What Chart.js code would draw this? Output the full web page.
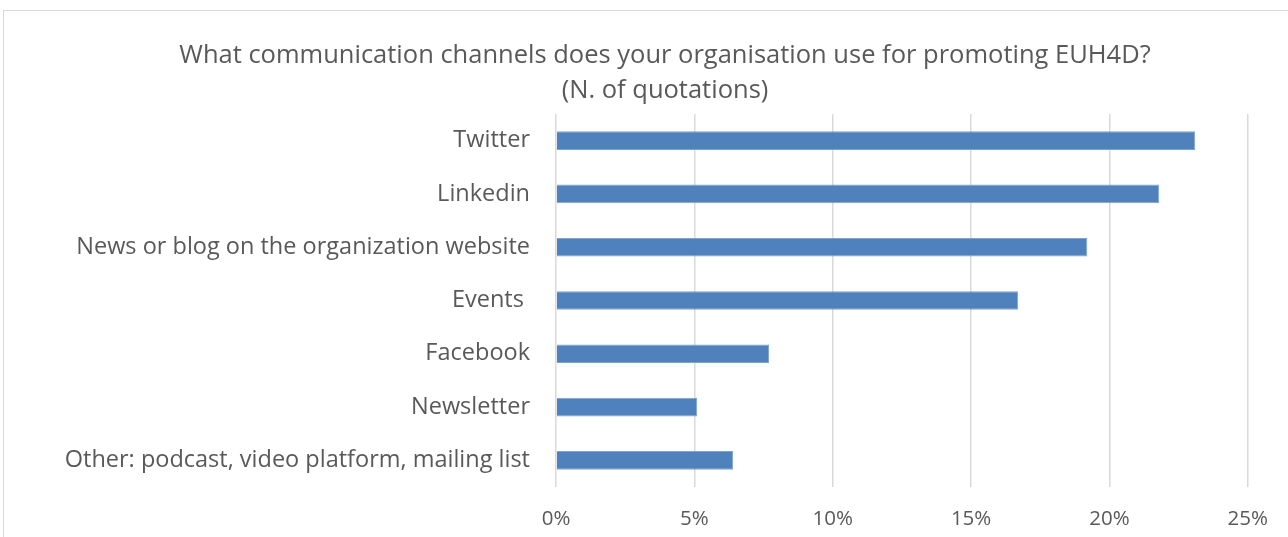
<!DOCTYPE html>
<html>
<head>
<meta charset="utf-8">
<script src="https://cdn.jsdelivr.net/npm/chart.js@4.4.0/dist/chart.umd.min.js"></script>
<style>
  body { margin: 0; background: #ffffff; }
  #marco { position: absolute; left: 3px; top: 10px; width: 1300px; height: 540px; border: 1px solid #d9d9d9; }
  #grafico { position: absolute; left: 0; top: 0; }
</style>
</head>
<body>
<div id="marco"></div>
<canvas id="grafico" width="1288" height="537"></canvas>
<script>
// Datos del gráfico (porcentaje de citas)
const categorias = [
    'Twitter',
    'Linkedin',
    'News or blog on the organization website',
    'Events ',
    'Facebook',
    'Newsletter',
    'Other: podcast, video platform, mailing list'
];
const valores = [23.1, 21.8, 19.2, 16.7, 7.7, 5.1, 6.4];
const marcasEje = [0, 5, 10, 15, 20, 25];

const tituloGrafico = [
    'What communication channels does your organisation use for promoting EUH4D?',
    '(N. of quotations)'
];

const fuente = '"Open Sans", Lato, sans-serif';
const gris = '#595959';
const margenIzq = 62; // espacio a la izquierda del gráfico

// Creamos el gráfico de barras horizontales
const ctx = document.getElementById('grafico').getContext('2d');
new Chart(ctx, {
    type: 'bar',
    data: {
        labels: categorias,
        datasets: [{
            data: valores,
            backgroundColor: '#4f81bd',
            borderColor: '#7fa3cf',
            borderWidth: 1,
            barPercentage: 0.35,
            categoryPercentage: 1
        }]
    },
    options: {
        indexAxis: 'y',
        responsive: false,
        animation: false,
        layout: { padding: { left: margenIzq, right: 20, top: 10, bottom: 7 } },
        plugins: {
            legend: { display: false },
            tooltip: { enabled: false },
            title: {
                display: true,
                text: tituloGrafico,
                color: gris,
                font: { family: fuente, size: 25.5, weight: 'normal', lineHeight: 1.373 },
                padding: { top: 28, bottom: 6 }
            }
        },
        scales: {
            x: {
                min: marcasEje[0],
                max: marcasEje[marcasEje.length - 1],
                afterBuildTicks: (eje) => { eje.ticks = marcasEje.map(v => ({ value: v })); },
                afterFit: (eje) => { eje.height = 43; },
                grid: { color: '#d9d9d9', lineWidth: 1.5, drawTicks: false },
                border: { display: false },
                ticks: {
                    color: gris,
                    padding: 20,
                    font: { family: fuente, size: 20.5 },
                    callback: (v) => v + '%'
                }
            },
            y: {
                grid: { display: false, drawTicks: false },
                border: { display: false },
                afterFit: (eje) => { eje.width = 556 - margenIzq; },
                ticks: {
                    color: gris,
                    padding: 26,
                    font: { family: fuente, size: 23.5 }
                }
            }
        }
    }
});
</script>
</body>
</html>
